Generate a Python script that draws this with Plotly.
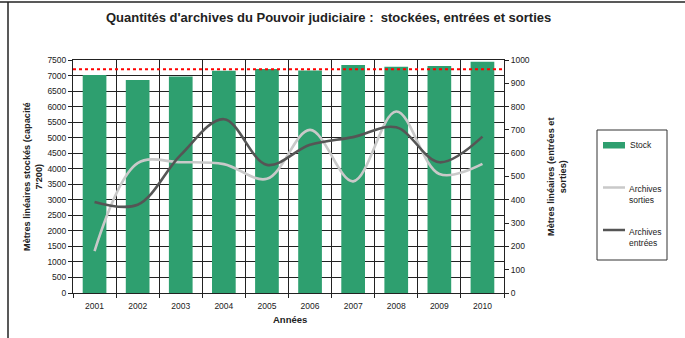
import plotly.graph_objects as go

# Data
years = ["2001", "2002", "2003", "2004", "2005", "2006", "2007", "2008", "2009", "2010"]
stock = [7020, 6860, 6970, 7150, 7210, 7160, 7340, 7280, 7310, 7440]
sorties = [180, 557, 561, 553, 490, 700, 479, 779, 511, 554]
entrees = [391, 379, 593, 746, 550, 636, 669, 711, 561, 671]
capacity = 7200
left_ticks = list(range(0, 7501, 500))
right_ticks = list(range(0, 1001, 100))

W, H = 685, 338
L, R, T, B = 73, 504, 60, 293  # plot area in pixels


def px(x):
    return (x - L) / (R - L)


def py(y):
    return (B - y) / (B - T)


FONT = "Liberation Sans, Arial, sans-serif"
GREEN = "#2e9f6f"
LIGHT = "#c9c9c9"
DARK = "#555555"
TXT = "#222222"

xs = list(range(len(years)))

fig = go.Figure()
fig.add_trace(go.Bar(x=xs, y=stock, width=0.55, marker=dict(color=GREEN, line=dict(width=0)),
                     name="Stock", showlegend=False))
fig.add_trace(go.Scatter(x=xs, y=sorties, yaxis="y2", mode="lines",
                         line=dict(color=LIGHT, width=2.6, shape="spline", smoothing=1.0),
                         name="Archives sorties", showlegend=False))
fig.add_trace(go.Scatter(x=xs, y=entrees, yaxis="y2", mode="lines",
                         line=dict(color=DARK, width=2.6, shape="spline", smoothing=1.0),
                         name="Archives entrées", showlegend=False))

shapes = []
# capacity line
shapes.append(dict(type="line", xref="paper", yref="y", x0=0, x1=1, y0=capacity, y1=capacity,
                   line=dict(color="#ff0000", width=2, dash="dot"), layer="above"))
# outer frame fragments
shapes.append(dict(type="line", xref="paper", yref="paper", x0=px(0), x1=px(W), y0=py(2), y1=py(2),
                   line=dict(color=TXT, width=1.5)))
shapes.append(dict(type="line", xref="paper", yref="paper", x0=px(8), x1=px(8), y0=py(2), y1=py(H),
                   line=dict(color=TXT, width=1.5)))
# legend box and swatches
shapes.append(dict(type="rect", xref="paper", yref="paper", x0=px(597), x1=px(667), y0=py(130), y1=py(260),
                   line=dict(color="#333", width=1), fillcolor="white"))
shapes.append(dict(type="rect", xref="paper", yref="paper", x0=px(603), x1=px(625), y0=py(142), y1=py(148.5),
                   line=dict(width=0), fillcolor=GREEN))
shapes.append(dict(type="line", xref="paper", yref="paper", x0=px(603), x1=px(625), y0=py(187.5), y1=py(187.5),
                   line=dict(color=LIGHT, width=2.5)))
shapes.append(dict(type="line", xref="paper", yref="paper", x0=px(603), x1=px(625), y0=py(230), y1=py(230),
                   line=dict(color=DARK, width=2.5)))


def note(text, x, y, size, xanchor="center", yanchor="middle", angle=0, align="center"):
    return dict(text=text, x=px(x), y=py(y), xref="paper", yref="paper", showarrow=False,
                xanchor=xanchor, yanchor=yanchor, textangle=angle, align=align,
                font=dict(family=FONT, size=size, color=TXT))


annotations = [
    note("<b>Quantités d'archives du Pouvoir judiciaire :  stockées, entrées et sorties</b>", 328, 18, 13),
    note("<b>Mètres linéaires stockés (capacité<br>7'200)</b>", 33, 177, 9.2, angle=-90),
    note("<b>Mètres linéaires (entrées et<br>sorties)</b>", 557, 177, 9.2, angle=-90),
    note("<b>Années</b>", 290, 319, 9.5),
    note("Stock", 628, 145, 8.5, xanchor="left"),
    note("Archives<br>sorties", 627, 194, 8.5, xanchor="left", align="left"),
    note("Archives<br>entrées", 627, 237, 8.5, xanchor="left", align="left"),
]

fig.update_layout(
    width=W, height=H,
    margin=dict(l=L, r=W - R, t=T, b=H - B, pad=0),
    paper_bgcolor="white", plot_bgcolor="white",
    showlegend=False,
    shapes=shapes,
    annotations=annotations,
    font=dict(family=FONT, size=8.5, color=TXT),
    xaxis=dict(range=[-0.5, len(years) - 0.5], tickmode="array", tickvals=xs, ticktext=years,
               ticks="", showgrid=False, zeroline=False, showline=True, linecolor=TXT,
               linewidth=1, mirror=True, tickfont=dict(size=8.5), ticklabelstandoff=5,
               minor=dict(tickmode="linear", tick0=0.5, dtick=1, showgrid=True, gridcolor=TXT,
                          gridwidth=1, ticks="outside", ticklen=4, tickcolor=TXT)),
    yaxis=dict(range=[0, 7500], tickmode="array", tickvals=left_ticks, showgrid=True,
               gridcolor=TXT, gridwidth=1, zeroline=False, showline=True, linecolor=TXT,
               linewidth=1, mirror=True, ticks="outside", ticklen=4, tickcolor=TXT,
               tickfont=dict(size=8.5)),
    yaxis2=dict(range=[0, 1000], overlaying="y", side="right", tickmode="array", tickvals=right_ticks,
                showgrid=False, zeroline=False, showline=True, linecolor=TXT, linewidth=1,
                ticks="outside", ticklen=4, tickcolor=TXT, tickfont=dict(size=8.5)),
)

fig.write_html("out.html")
